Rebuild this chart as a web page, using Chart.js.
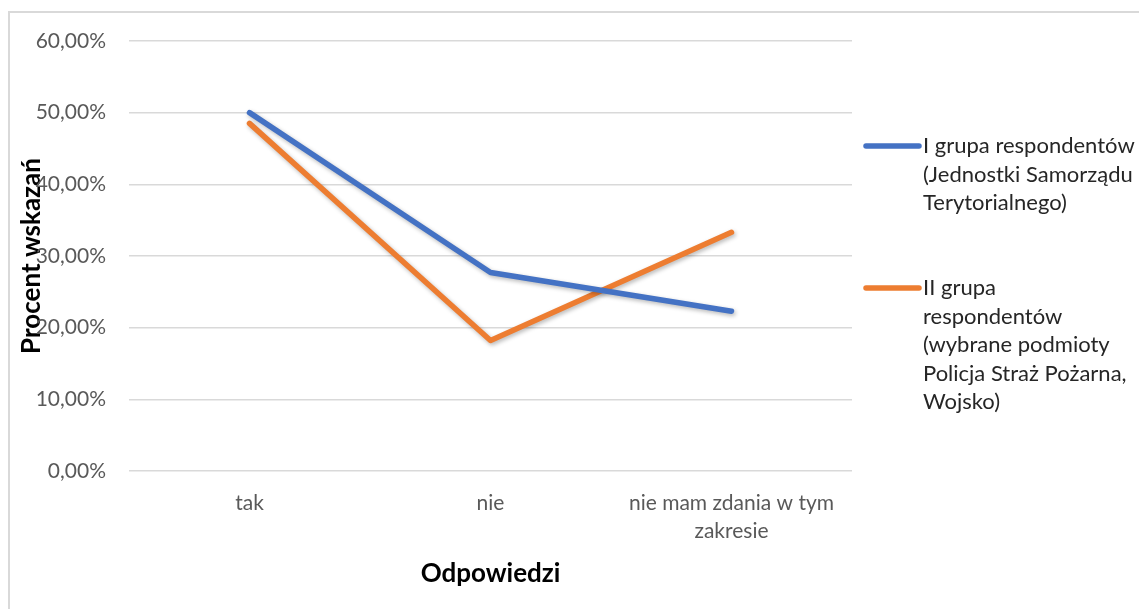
<!DOCTYPE html>
<html>
<head>
<meta charset="utf-8">
<script src="https://cdn.jsdelivr.net/npm/chart.js@4"></script>
<style>
  body { margin: 0; background: #fff; }
  #wrap { position: relative; width: 1139px; height: 609px; }
  #frame { position: absolute; left: 8px; top: 11px; width: 1200px; height: 700px;
           border-top: 2px solid #d9d9d9; border-left: 2px solid #d9d9d9; }
  #chartBox { position: absolute; left: 0; top: 0; width: 1139px; height: 609px; }
</style>
</head>
<body>
<div id="wrap">
  <div id="frame"></div>
  <div id="chartBox"><canvas id="lineChart"></canvas></div>
</div>
<script>
// categories and answers (percent of responses)
var categories = ['tak', 'nie', ['nie mam zdania w tym', 'zakresie']];
var group1Data = [50.0, 27.7, 22.3];
var group2Data = [48.5, 18.2, 33.3];
var group1Label = ['I grupa respondentów', '(Jednostki Samorządu', 'Terytorialnego)'];
var group2Label = ['II grupa', 'respondentów', '(wybrane podmioty', 'Policja Straż Pożarna,', 'Wojsko)'];
var yMin = 0;
var yMax = 60;
var yStep = 10;

var blue = '#4472C4';
var orange = '#ED7D31';

Chart.defaults.font.family = 'Lato, "Open Sans", sans-serif';

// soft shadow under the lines, like the office chart
var lineShadow = {
  id: 'lineShadow',
  beforeDatasetsDraw: function(chart) {
    var ctx = chart.ctx;
    ctx.save();
    ctx.shadowColor = 'rgba(0,0,0,0.28)';
    ctx.shadowBlur = 4;
    ctx.shadowOffsetX = 1.5;
    ctx.shadowOffsetY = 2;
  },
  afterDatasetsDraw: function(chart) {
    chart.ctx.restore();
  }
};

// legend on the right with wrapped text
var sideLegend = {
  id: 'sideLegend',
  afterDraw: function(chart) {
    var ctx = chart.ctx;
    var startX = 866;
    var tops = [146, 288];
    var lineH = 28.5;
    ctx.save();
    ctx.font = '22px Lato';
    ctx.textBaseline = 'middle';
    ctx.textAlign = 'left';
    chart.data.datasets.forEach(function(ds, i) {
      var y = tops[i];
      ctx.strokeStyle = ds.borderColor;
      ctx.lineWidth = 5.5;
      ctx.lineCap = 'round';
      ctx.beginPath();
      ctx.moveTo(startX, y);
      ctx.lineTo(startX + 53, y);
      ctx.stroke();
      ctx.fillStyle = '#262626';
      ds.label.forEach(function(line, j) {
        ctx.fillText(line, startX + 57, y + j * lineH);
      });
    });
    ctx.restore();
  }
};

var lineChart = new Chart(document.getElementById('lineChart'), {
  type: 'line',
  data: {
    labels: categories,
    datasets: [{
      label: group1Label,
      data: group1Data,
      borderColor: blue,
      backgroundColor: blue,
      borderWidth: 5.5,
      borderCapStyle: 'round',
      borderJoinStyle: 'round',
      pointRadius: 0,
      tension: 0
    }, {
      label: group2Label,
      data: group2Data,
      borderColor: orange,
      backgroundColor: orange,
      borderWidth: 5.5,
      borderCapStyle: 'round',
      borderJoinStyle: 'round',
      pointRadius: 0,
      tension: 0
    }]
  },
  options: {
    responsive: true,
    maintainAspectRatio: false,
    animation: false,
    layout: { padding: { left: 8, right: 287, top: 41, bottom: 0 } },
    plugins: {
      legend: { display: false },
      tooltip: { enabled: false }
    },
    scales: {
      x: {
        offset: true,
        grid: { display: false, drawTicks: false },
        border: { display: false },
        ticks: { color: '#595959', font: { size: 21, lineHeight: 1.35 }, padding: 18, maxRotation: 0 },
        title: {
          display: true,
          text: 'Odpowiedzi',
          color: '#000',
          font: { size: 26, weight: 'bold', lineHeight: 1.2 },
          padding: { top: 0, bottom: 20 }
        },
        afterFit: function(scale) { scale.height = 138; }
      },
      y: {
        min: yMin,
        max: yMax,
        grid: { color: '#d9d9d9', lineWidth: 1.5, drawTicks: false },
        border: { display: false },
        ticks: {
          stepSize: yStep,
          color: '#595959',
          font: { size: 21 },
          padding: 23,
          callback: function(v) { return v.toFixed(2).replace('.', ',') + '%'; }
        },
        title: {
          display: true,
          text: 'Procent wskazań',
          color: '#000',
          font: { size: 26, weight: 'bold', lineHeight: 1.2 },
          padding: { top: 8, bottom: 0 }
        },
        afterFit: function(scale) { scale.width = 121; }
      }
    }
  },
  plugins: [lineShadow, sideLegend]
});
</script>
</body>
</html>
